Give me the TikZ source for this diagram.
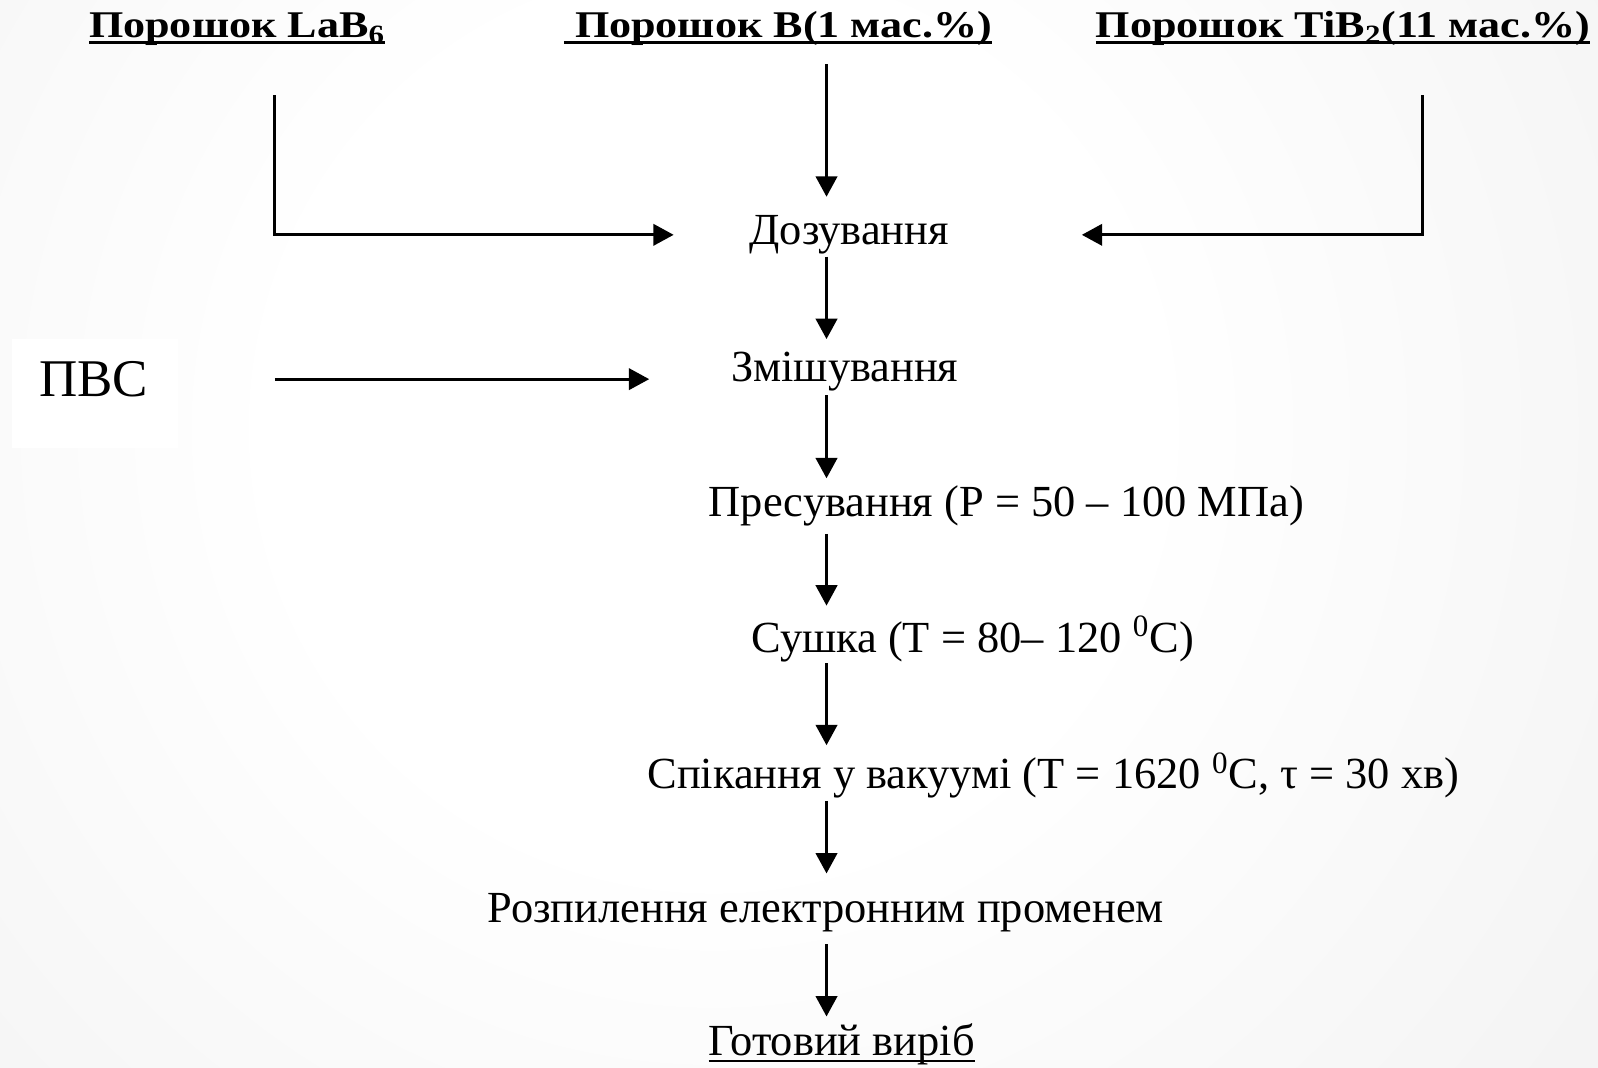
\documentclass[tikz,border=0pt]{standalone}
\usepackage{fontspec}
\setmainfont{Liberation Serif}
\newfontfamily\headfont[FakeStretch=1.17]{Liberation Serif}
\usetikzlibrary{positioning, arrows.meta}

\pgfdeclareradialshading{slidebg}{\pgfpoint{0bp}{0bp}}{color(0bp)=(white); color(10bp)=(white); color(50bp)=(black!12)}
% underline with a bar of given thickness
\newcommand{\ulbar}[2][1.5pt]{\setbox0=\hbox{#2}\rlap{\rule[-3pt]{\wd0}{#1}}\box0}

\begin{document}
\begin{tikzpicture}[x=0.5pt, y=-0.5pt,
  arr/.style = {-{Triangle[length=10pt, width=10.5pt]}, line width=1.4pt},
  head/.style = {font=\fontsize{18.5}{22}\selectfont\headfont\bfseries, inner sep=0pt, anchor=base west},
  stage/.style = {font=\fontsize{21.8}{26}\selectfont, inner sep=0pt, anchor=base west}]
\useasboundingbox (0,0) rectangle (1568,1047);
\begin{scope}
\clip (0,0) rectangle (1568,1047);
\shade[shading=slidebg] (-371,-651) rectangle (1771,1491);
\end{scope}
\fill[white] (12,333) rectangle (175,440);

% columns
\coordinate (axis) at (811,0);
\coordinate (lcol) at (269,0);
\coordinate (rcol) at (1396,0);

\node[head] (lab) at (87,37) {\ulbar{Порошок LaB\textsubscript{6}}};
\node[head] (bor) at (553,37) {\ulbar{\ Порошок B(1 мас.\%)}};
\node[head] (tib) at (1075,37) {\ulbar{Порошок TiB\textsubscript{2}(11 мас.\%)}};

\node[stage] (doz) at (735,240) {Дозування};
\node[stage, font=\fontsize{26}{30}\selectfont] (pvs) at (38,389) {ПВС};
\node[stage] (mix) at (717,374) {Змішування};
\node[stage] (press) at (695,507) {Пресування (Р = 50 -- 100 МПа)};
\node[stage] (dry) at (737,640) {Сушка (Т = 80-- 120 \textsuperscript{0}С)};
\node[stage] (sint) at (635,774) {Спікання у вакуумі (Т = 1620 \textsuperscript{0}С, τ = 30 хв)};
\node[stage] (spray) at (478,905) {Розпилення електронним променем};
\node[stage] (ready) at (695,1036) {\ulbar[0.9pt]{Готовий виріб}};

\draw[arr, shorten <=24pt, shorten >=37pt] (lab.south -| lcol) |- (doz.west);
\draw[arr, shorten <=24pt, shorten >=65pt] (tib.south -| rcol) |- (doz.east);
\draw[arr, shorten <=9pt, shorten >=9pt] (bor.south -| axis) -- (doz.north -| axis);
\draw[arr, shorten <=1pt, shorten >=6pt] (doz.south -| axis) -- (mix.north -| axis);
\draw[arr, shorten <=62pt, shorten >=40pt] (pvs.east) -- (pvs.east -| mix.west);
\draw[arr, shorten <=2pt, shorten >=3.5pt] (mix.south -| axis) -- (press.north -| axis);
\draw[arr, shorten <=3.5pt, shorten >=5pt] (press.south -| axis) -- (dry.north -| axis);
\draw[arr, shorten <=0.5pt, shorten >=3.5pt] (dry.south -| axis) -- (sint.north -| axis);
\draw[arr, shorten <=1pt, shorten >=9.5pt] (sint.south -| axis) -- (spray.north -| axis);
\draw[arr, shorten <=6pt, shorten >=3.5pt] (spray.south -| axis) -- (ready.north -| axis);
\end{tikzpicture}
\end{document}
